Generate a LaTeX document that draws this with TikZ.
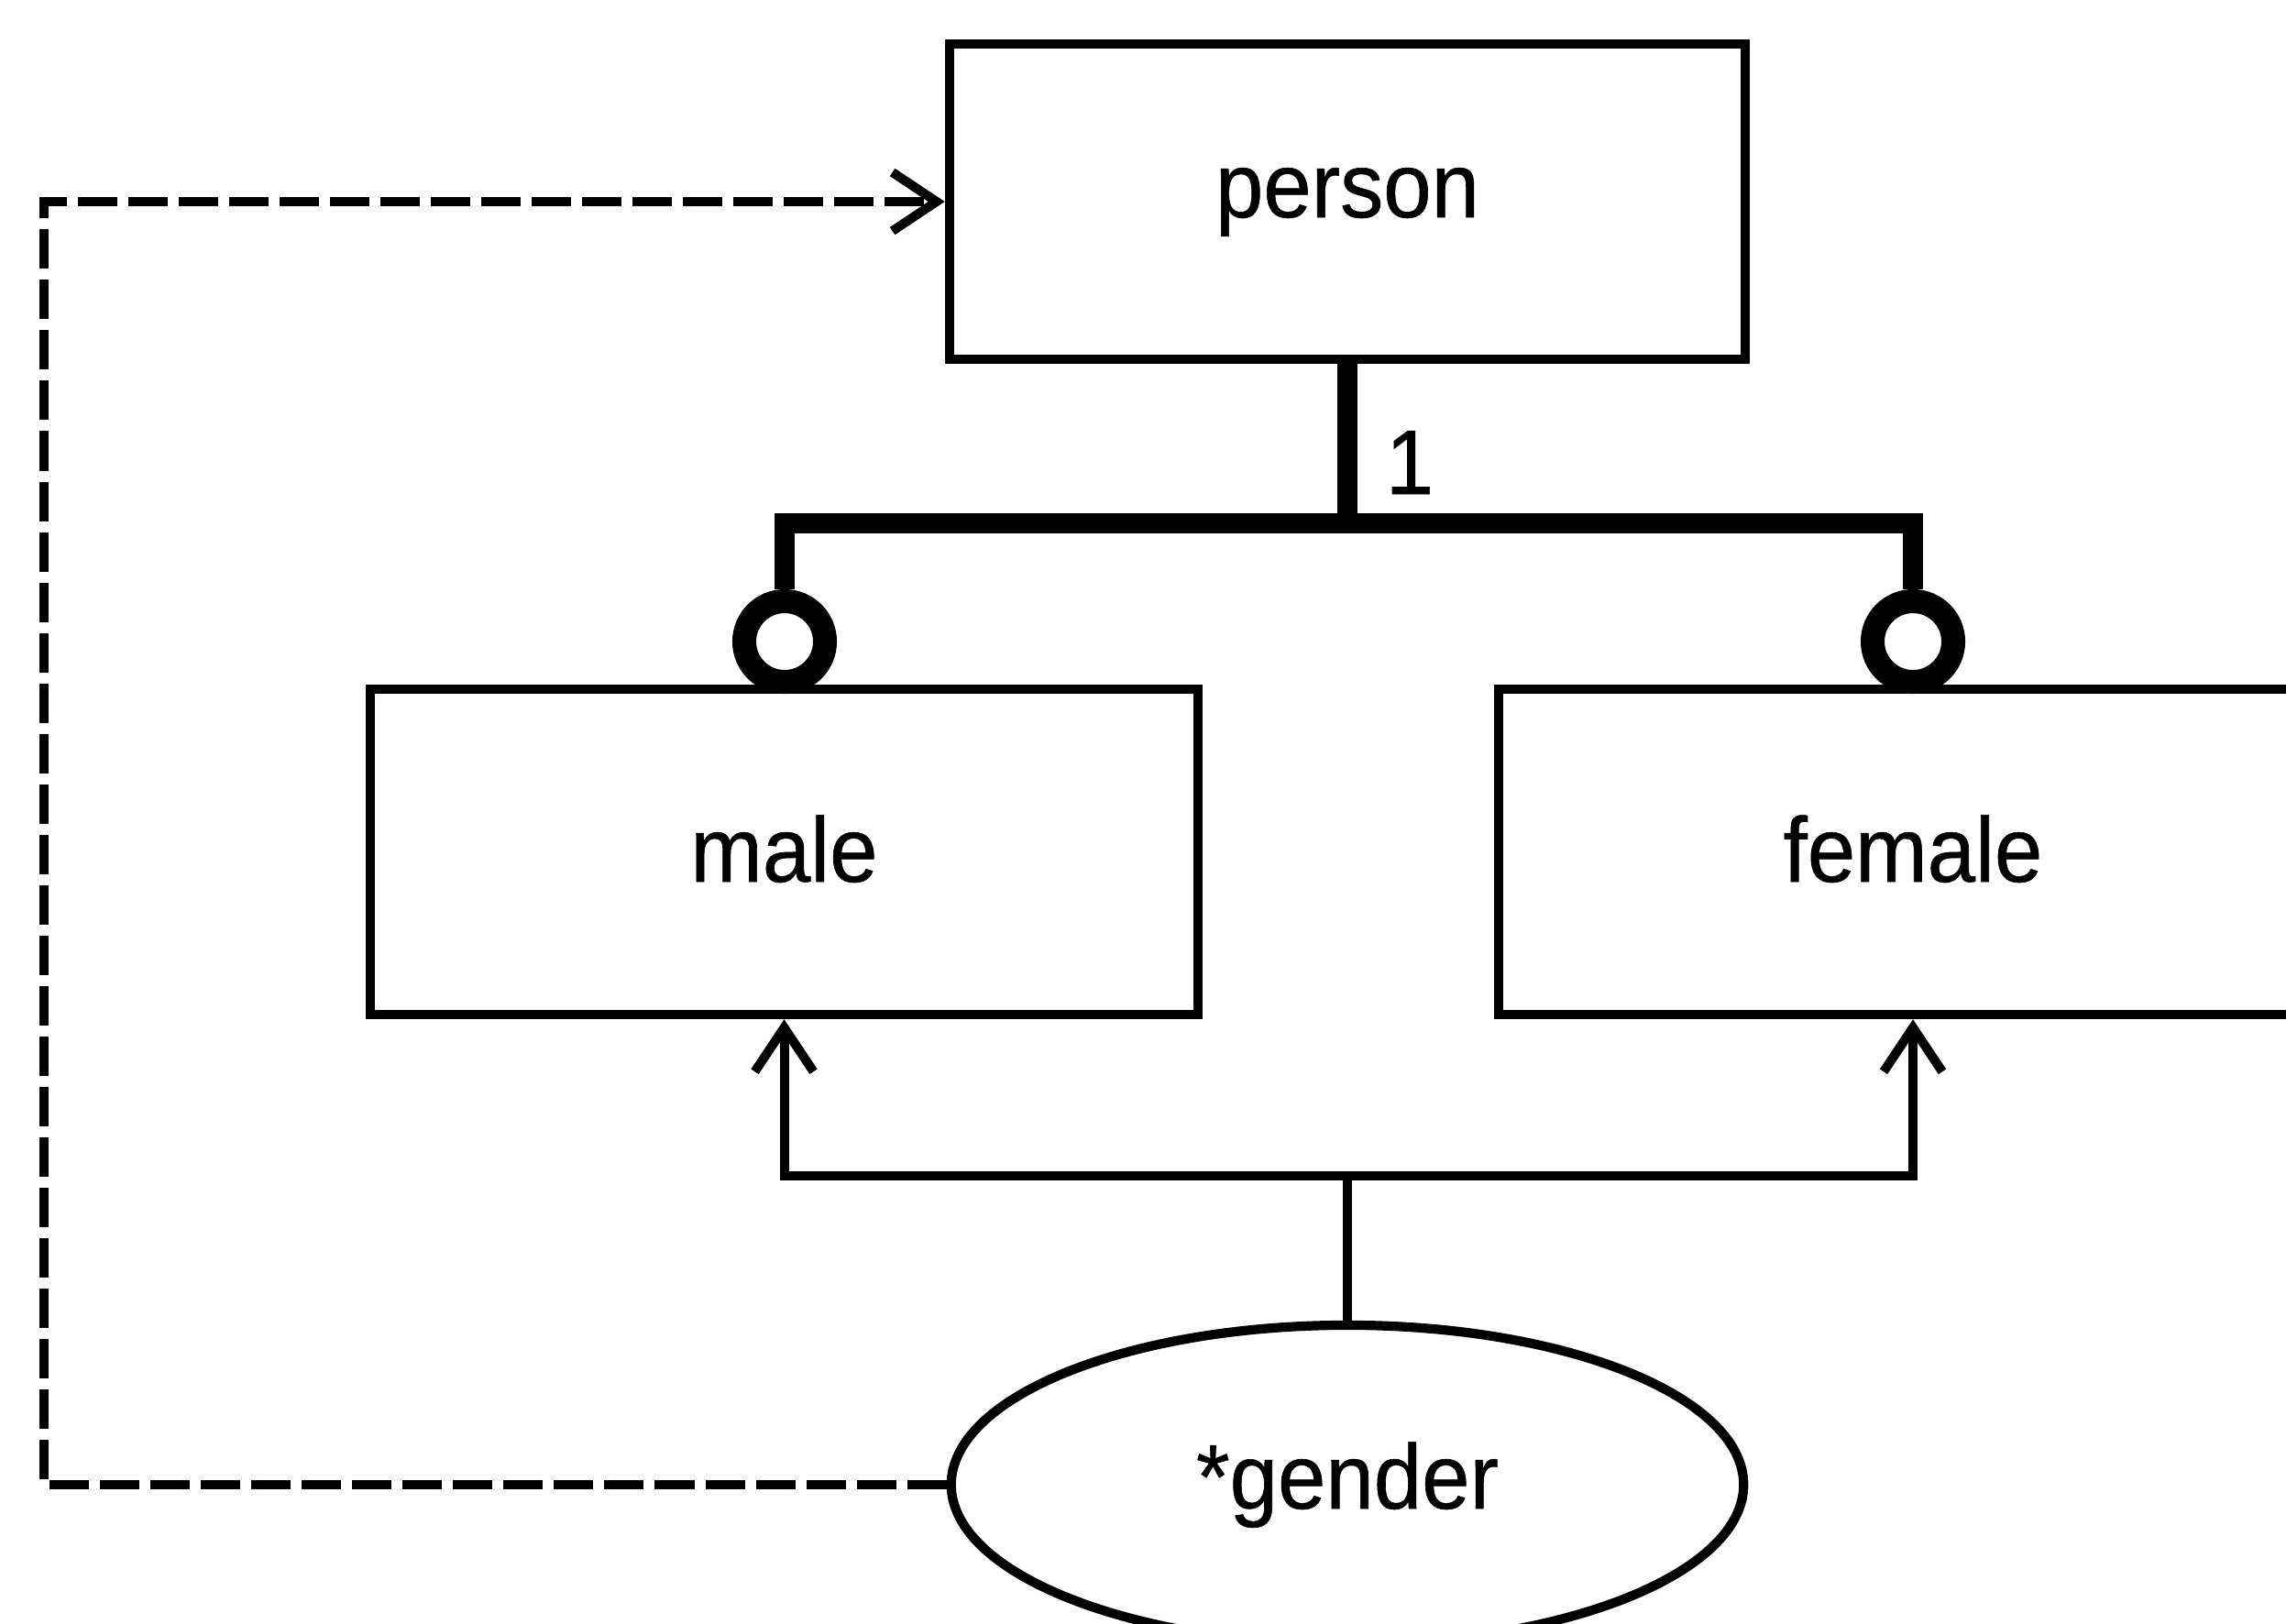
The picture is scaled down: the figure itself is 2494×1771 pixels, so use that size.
\documentclass[tikz,border=0pt]{standalone}
\usepackage{fontspec}
\setmainfont{Liberation Sans}[FakeStretch=0.94, FakeBold=0.6]
\usetikzlibrary{arrows.meta,shapes.geometric}
\begin{document}
\begin{tikzpicture}[x=0.01cm, y=-0.01cm,
  txt/.style={font=\fontsize{28.5pt}{34pt}\selectfont},
  box/.style={draw, line width=2.9pt, inner sep=0pt, text depth=0pt, txt},
  oval/.style={draw, ellipse, line width=2.9pt, inner sep=0pt, text depth=0pt, txt,
    minimum width=8.64cm, minimum height=3.48cm, text height=0.52cm},
  ring/.style={draw, circle, fill=white, line width=7.4pt, inner sep=0pt, minimum size=0.88cm},
  heavy/.style={line width=6pt},
  conn/.style={line width=2.85pt},
  barb/.style={-{Straight Barb[length=0.48cm, width=0.64cm]}},
  dashline/.style={dash pattern=on 0.43cm off 0.12cm}]
\useasboundingbox (0,0) rectangle (2494,1771);
\clip (0,0) rectangle (2494,1771);
% entities
\node[box, minimum width=8.68cm, minimum height=3.44cm, text height=0.34cm] (person) at (1470,220) {person};
\node[box, minimum width=9.03cm, minimum height=3.55cm, text height=0.65cm] (male) at (855.5,929.5) {male};
\node[box, minimum width=9.03cm, minimum height=3.55cm, text height=0.65cm] (female) at (2087,929.5) {female};
\node[oval] (gender) at (1470,1620) {*gender};
\node[ring] (cm1) at (856,700) {};
\node[ring] (cm2) at (2087,700) {};
\node[txt, anchor=base, inner sep=0pt] (one) at (1538,539) {1};
% thick relationship
\coordinate (bar) at (1470,571);
\draw[heavy] (person.south) -- (bar);
\draw[heavy] (cm1.north) |- (bar) -| (cm2.north);
% discriminator
\coordinate (fork) at (1470,1283);
\draw[conn] (gender.north) -- (fork);
\draw[conn, barb] (fork) -| (male.south);
\draw[conn, barb] (fork) -| (female.south);
% dashed link
\coordinate (rail) at (48,0);
\draw[conn, dashline, barb] (gender.west) -- (gender.west -| rail) |- (person.west);
\end{tikzpicture}
\end{document}
